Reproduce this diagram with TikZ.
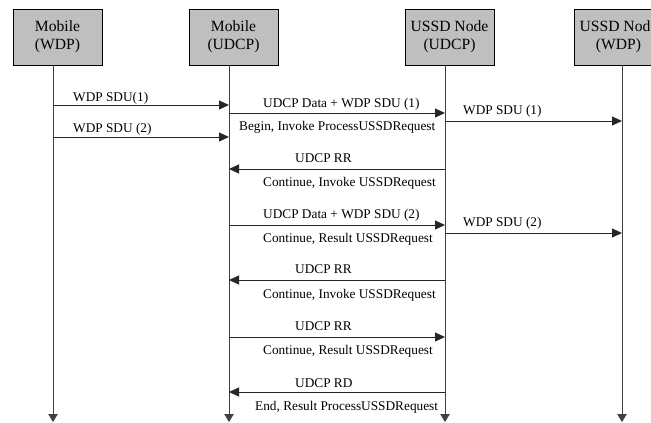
\documentclass[tikz,border=0pt]{standalone}
\usepackage{fontspec}
\setmainfont{Liberation Serif}
\usetikzlibrary{arrows.meta}

\begin{document}
\begin{tikzpicture}[x=1pt,y=-1pt,
  entity/.style={draw=black,fill=black!25,minimum width=89pt,minimum height=56pt,
    inner sep=0pt,align=center,font=\fontsize{15.6}{18}\selectfont},
  lifeline/.style={draw=black!75,line width=0.8pt,-{Triangle[length=8pt,width=9.5pt]}},
  msg/.style={draw=black!85,line width=1pt,-{Triangle[length=10pt,width=9pt]}},
  lbl/.style={anchor=base west,inner sep=0pt,font=\fontsize{13.3}{16}\selectfont}]

\useasboundingbox (0,0) rectangle (651,423);

\def\yTop{65}
\def\yEnd{422}

\node[entity] (mwdp)  at (57.5,37)  {Mobile\\(WDP)};
\node[entity] (mudcp) at (233.5,37) {Mobile\\(UDCP)};
\node[entity] (sudcp) at (449.5,37) {USSD Node\\(UDCP)};
\node[entity] (swdp)  at (618.5,37) {USSD Node\\(WDP)};

\foreach \n/\x in {mwdp/53, mudcp/229, sudcp/445, swdp/622} {
  \coordinate (\n-t) at (\x,\yTop);
  \coordinate (\n-e) at (\x,\yEnd);
  \draw[lifeline] (\n-t) -- (\n-e);
}

% mobile side
\draw[msg] (mwdp-t |- 0,105) -- (mudcp-t |- 0,105);
\node[lbl] (sdu1) at (73,101.5) {WDP SDU(1)};
\draw[msg] (mwdp-t |- 0,137) -- (mudcp-t |- 0,137);
\node[lbl] (sdu2) at (73,132.5) {WDP SDU (2)};

% udcp exchange
\draw[msg] (mudcp-t |- 0,113) -- (sudcp-t |- 0,113);
\node[lbl] (data1) at (263,107) {UDCP Data + WDP SDU (1)};
\node[lbl] (begin) at (239,130) {Begin, Invoke ProcessUSSDRequest};

\draw[msg] (sudcp-t |- 0,169) -- (mudcp-t |- 0,169);
\node[lbl] (rr1) at (295,162.5) {UDCP RR};
\node[lbl] (inv1) at (263,186.5) {Continue, Invoke USSDRequest};

\draw[msg] (mudcp-t |- 0,225) -- (sudcp-t |- 0,225);
\node[lbl] (data2) at (263,218.5) {UDCP Data + WDP SDU (2)};
\node[lbl] (res1) at (263,242.5) {Continue, Result USSDRequest};

\draw[msg] (sudcp-t |- 0,280) -- (mudcp-t |- 0,280);
\node[lbl] (rr2) at (295,273.5) {UDCP RR};
\node[lbl] (inv2) at (263,298.5) {Continue, Invoke USSDRequest};

\draw[msg] (mudcp-t |- 0,337) -- (sudcp-t |- 0,337);
\node[lbl] (rr3) at (295,330.5) {UDCP RR};
\node[lbl] (res2) at (263,354.5) {Continue, Result USSDRequest};

\draw[msg] (sudcp-t |- 0,392) -- (mudcp-t |- 0,392);
\node[lbl] (rd) at (295,387.5) {UDCP RD};
\node[lbl] (fin) at (255,410.5) {End, Result ProcessUSSDRequest};

% node side
\draw[msg] (sudcp-t |- 0,121) -- (swdp-t |- 0,121);
\node[lbl] (nsdu1) at (463,114.5) {WDP SDU (1)};
\draw[msg] (sudcp-t |- 0,233) -- (swdp-t |- 0,233);
\node[lbl] (nsdu2) at (463,226) {WDP SDU (2)};
\end{tikzpicture}
\end{document}
